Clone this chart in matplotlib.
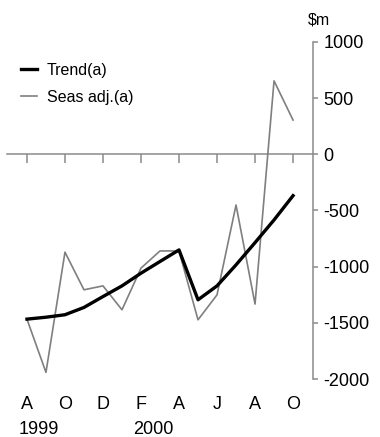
import matplotlib
matplotlib.use('Agg')
import matplotlib.pyplot as plt
import matplotlib.transforms as mtransforms

plt.rcParams['font.family'] = ['Liberation Sans', 'DejaVu Sans']
plt.rcParams['axes.unicode_minus'] = False

# monthly, Aug 1999 .. Oct 2000 ($m)
months = ['A', 'S', 'O', 'N', 'D', 'J', 'F', 'M', 'A', 'M', 'J', 'J', 'A', 'S', 'O']
trend = [-1467, -1450, -1428, -1363, -1266, -1171, -1058, -954, -851,
         -1295, -1171, -984, -786, -584, -368]
seas_adj = [-1467, -1941, -871, -1206, -1171, -1384, -1013, -860, -860,
            -1473, -1251, -451, -1333, 654, 305]
tick_labels = ['A', 'O', 'D', 'F', 'A', 'J', 'A', 'O']
year_labels = ['1999', '2000']
year_pos = [0, 6]
y_ticks = [1000, 500, 0, -500, -1000, -1500, -2000]

W, H = 380, 437
fig = plt.figure(figsize=(W / 100, H / 100), dpi=100)
ax = fig.add_axes([7 / W, 1 - 379 / H, (313 - 7) / W, (379 - 42) / H])

x = list(range(len(months)))
grey = '#8a8a8a'

ax.plot(x, seas_adj, color='#7f7f7f', lw=1.2, label='Seas adj.(a)', zorder=3)
ax.plot(x, trend, color='black', lw=2.4, label='Trend(a)', zorder=4)

ax.set_xlim(-1.05, 15.05)
ax.set_ylim(-2000, 1000)

for s in ['top', 'left']:
    ax.spines[s].set_visible(False)
ax.spines['right'].set_color(grey)
ax.spines['right'].set_linewidth(1.1)
ax.spines['bottom'].set_position(('data', 0))
ax.spines['bottom'].set_color(grey)
ax.spines['bottom'].set_linewidth(1.1)

ax.yaxis.tick_right()
ax.set_yticks(y_ticks)
ax.set_yticklabels([str(v) for v in y_ticks])
ax.tick_params(axis='y', direction='out', length=3.5, width=1.1, color=grey,
               labelsize=13, pad=4)

tick_pos = list(range(0, len(months), 2))
ax.set_xticks(tick_pos)
ax.tick_params(axis='x', direction='out', length=6.5, width=1.1, color=grey,
               labelbottom=False)

sec = ax.secondary_xaxis('bottom')
sec.set_xticks(tick_pos)
sec.set_xticklabels(tick_labels)
sec.spines['bottom'].set_visible(False)
sec.tick_params(axis='x', length=0, labelsize=13, pad=12)

trans = mtransforms.blended_transform_factory(ax.transData, fig.transFigure)
for lab, p in zip(year_labels, year_pos):
    ax.text(p - 0.42, 1 - 434 / H, lab, transform=trans, ha='left',
            va='baseline', fontsize=13)

fig.text(308 / W, 1 - 25 / H, '$m', ha='left', va='baseline', fontsize=11.5)

handles, labels = ax.get_legend_handles_labels()
ax.legend(handles[::-1], labels[::-1], loc='upper left',
          bbox_to_anchor=(21 / W, 1 - 63 / H), bbox_transform=fig.transFigure,
          frameon=False, fontsize=11.5, handlelength=1.0, handletextpad=0.6,
          labelspacing=0.75, borderpad=0, borderaxespad=0)

fig.savefig('out.png', dpi=100, facecolor='white')
